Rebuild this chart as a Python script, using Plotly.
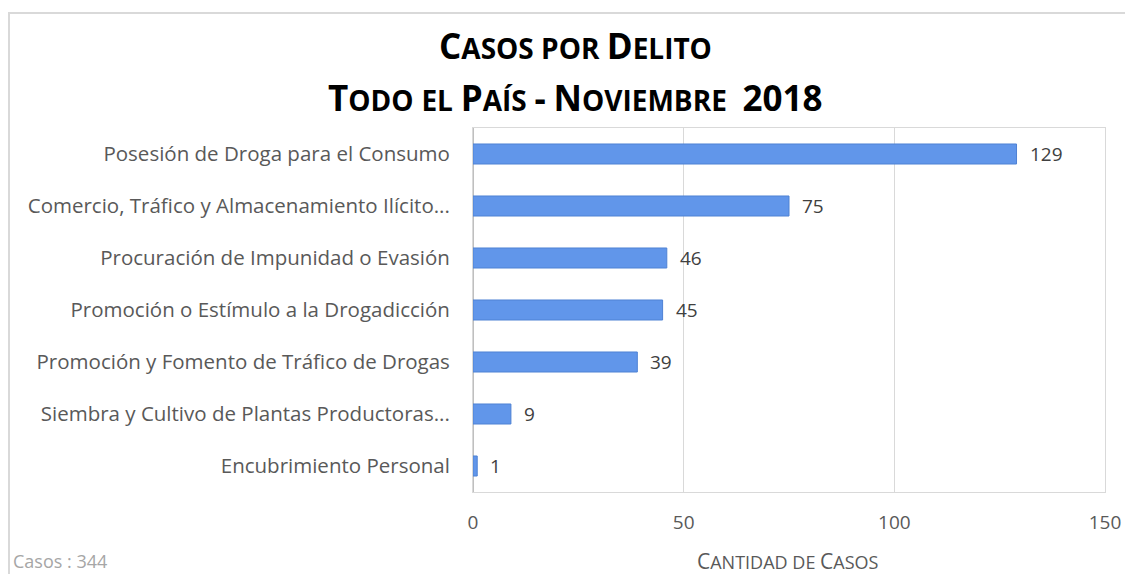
import plotly.graph_objects as go

categorias = [
    "Posesión de Droga para el Consumo",
    "Comercio, Tráfico y Almacenamiento Ilícito...",
    "Procuración de Impunidad o Evasión",
    "Promoción o Estímulo a la Drogadicción",
    "Promoción y Fomento de Tráfico de Drogas",
    "Siembra y Cultivo de Plantas Productoras...",
    "Encubrimiento Personal",
]
casos = [129, 75, 46, 45, 39, 9, 1]
x_ticks = [0, 50, 100, 150]
total_casos = 344

# the page body has an 8px margin, so the figure is drawn 8px smaller
OFF = 8
W, H = 1133 - OFF, 574 - OFF
L, T = 473 - OFF, 128 - OFF
R, B = W - (1105 - OFF), H - (492 - OFF)
PW, PH = W - L - R, H - T - B


def px(x):
    return (x - OFF - L) / PW


def py(y):
    return (H - (y - OFF) - B) / PH


def small_caps(text, big, small):
    out = []
    for word in text.split(" "):
        if not word:
            out.append("")
            continue
        if word.isdigit() or word == "-":
            out.append(f"<span style='font-size:{big}px'>{word}</span>")
            continue
        first, rest = word[0], word[1:]
        if first.isupper():
            s = f"<span style='font-size:{big}px'>{first}</span>"
        else:
            s = f"<span style='font-size:{small}px'>{first.upper()}</span>"
        if rest:
            s += f"<span style='font-size:{small}px'>{rest.upper()}</span>"
        out.append(s)
    return " ".join(out)


fig = go.Figure()

fig.add_trace(
    go.Bar(
        x=casos,
        y=categorias,
        orientation="h",
        marker=dict(color="#6196ea", line=dict(color="#4f82d4", width=1)),
        hoverinfo="x+y",
    )
)

for c, v in zip(categorias, casos):
    fig.add_annotation(
        x=v, y=c, text=str(v),
        xanchor="left", yanchor="middle", xshift=11, showarrow=False,
        font=dict(family="Open Sans", size=19, color="#404040"),
    )

fig.update_layout(
    width=W,
    height=H,
    margin=dict(l=L, r=R, t=T, b=B),
    plot_bgcolor="white",
    paper_bgcolor="white",
    showlegend=False,
    bargap=0.615,
    font=dict(family="Open Sans", color="#595959"),
)

fig.update_xaxes(
    range=[0, 150],
    tickvals=x_ticks,
    showgrid=True,
    gridcolor="#d9d9d9",
    zeroline=True,
    zerolinecolor="#bfbfbf",
    zerolinewidth=1,
    showline=True,
    linecolor="#d9d9d9",
    mirror=True,
    tickfont=dict(family="Open Sans", size=19, color="#595959"),
    ticklabelstandoff=13,
)
fig.update_yaxes(
    autorange="reversed",
    showline=True,
    linecolor="#d9d9d9",
    mirror=True,
    tickfont=dict(family="Open Sans", size=20.5, color="#595959"),
    ticklabelstandoff=18,
)

# outer chart border
fig.add_shape(
    type="rect", xref="paper", yref="paper",
    x0=px(9), x1=px(1140), y0=py(590), y1=py(13),
    line=dict(color="#d9d9d9", width=2), layer="below",
)

fig.add_annotation(
    text="<b>" + small_caps("Casos por Delito", 35, 28) + "</b>",
    xref="paper", yref="paper", x=px(575), y=py(46),
    xanchor="center", yanchor="middle", showarrow=False,
    font=dict(family="Open Sans", size=28, color="#000000"),
)
fig.add_annotation(
    text="<b>" + small_caps("Todo el País - Noviembre  2018", 35, 28) + "</b>",
    xref="paper", yref="paper", x=px(575), y=py(97),
    xanchor="center", yanchor="middle", showarrow=False,
    font=dict(family="Open Sans", size=30, color="#000000"),
)
fig.add_annotation(
    text=small_caps("Cantidad de Casos", 21, 18),
    xref="paper", yref="paper", x=px(788), y=py(561),
    xanchor="center", yanchor="middle", showarrow=False,
    font=dict(family="Open Sans", size=18, color="#595959"),
)
fig.add_annotation(
    text=f"Casos : {total_casos}",
    xref="paper", yref="paper", x=px(11), y=py(561),
    xanchor="left", yanchor="middle", showarrow=False,
    font=dict(family="Open Sans", size=18, color="#a6a6a6"),
)

fig.write_html("out.html")
